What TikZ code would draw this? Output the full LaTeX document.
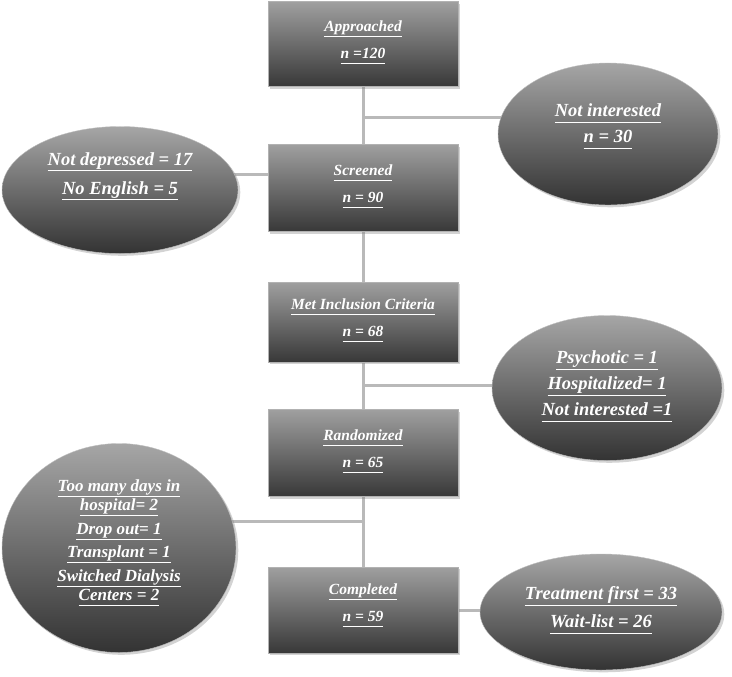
\documentclass[tikz,border=0pt]{standalone}
\usepackage{fontspec}
\setmainfont{Liberation Serif}
\usepackage{tikz}
\usetikzlibrary{shapes.geometric, shadows, backgrounds}

\newcommand{\ul}[1]{\underline{\smash{#1}\vphantom{p}}}

\begin{document}
\begin{tikzpicture}[x=1pt, y=-1pt,
    stepbox/.style={rectangle, draw=gray!60, minimum width=190pt, top color=gray!75, bottom color=black!78, text=white, font=\bfseries\itshape\fontsize{15.5}{18}\selectfont, align=center, drop shadow={opacity=0.35}},
    outbox/.style={ellipse, draw=gray!50, inner sep=0pt, top color=gray!70, bottom color=black!80, text=white, font=\bfseries\itshape\fontsize{18.5}{21}\selectfont, align=center, drop shadow={opacity=0.35}},
    link/.style={line width=3pt, gray!55}]
    \useasboundingbox (0,0) rectangle (732,677);

    % Main steps
    \node[stepbox, minimum height=85pt] (approached) at (363,44) {\ul{Approached}\\[9pt]\ul{n =120}};
    \node[stepbox, minimum height=87pt] (screened) at (363,188) {\ul{Screened}\\[9pt]\ul{n = 90}};
    \node[stepbox, minimum height=80pt] (met) at (363,322) {\ul{Met Inclusion Criteria}\\[9pt]\ul{n = 68}};
    \node[stepbox, minimum height=87pt] (randomized) at (363,453) {\ul{Randomized}\\[9pt]\ul{n = 65}};
    \node[stepbox, minimum height=86pt] (completed) at (363,610) {\ul{Completed}\\[9pt]\ul{n = 59}\\[-6pt]\mbox{}};

    % Exclusions
    \node[outbox, minimum width=220pt, minimum height=142pt] (notint) at (608,134) {\ul{Not interested}\\[5pt]\ul{n = 30}\\[-4pt]\mbox{}};
    \node[outbox, minimum width=236pt, minimum height=127pt] (notdep) at (120,190) {\ul{Not depressed = 17}\\[8pt]\ul{No English = 5}\\[8pt]\mbox{}};
    \node[outbox, minimum width=230pt, minimum height=145pt] (psych) at (607,388) {\ul{Psychotic = 1}\\[5pt]\ul{Hospitalized= 1}\\[5pt]\ul{Not interested =1}};
    \node[outbox, minimum width=234pt, minimum height=209pt, font=\bfseries\itshape\fontsize{17}{18.5}\selectfont] (dropped) at (119,548) {\ul{Too many days in}\\\ul{hospital= 2}\\[6pt]\ul{Drop out= 1}\\[4pt]\ul{Transplant = 1}\\[6pt]\ul{Switched Dialysis}\\\ul{Centers = 2}\\[-6pt]\mbox{}};
    \node[outbox, minimum width=242pt, minimum height=116pt] (arms) at (601,612) {\ul{Treatment first = 33}\\[7pt]\ul{Wait-list = 26}};

    % Branch points
    \coordinate (b1) at (365,118);
    \coordinate (b2) at (268,174);
    \coordinate (b3) at (365,385);
    \coordinate (b4) at (365,521);

    % Connectors
    \begin{scope}[on background layer]
        \draw[link] (approached.south) -- (screened.north);
        \draw[link] (screened.south) -- (met.north);
        \draw[link] (met.south) -- (randomized.north);
        \draw[link] (randomized.south) -- (completed.north);
        \draw[link] (b1) -- (b1 -| notint.center);
        \draw[link] (b2) -- (b2 -| notdep.center);
        \draw[link] (b3) -- (b3 -| psych.center);
        \draw[link] (b4) -- (b4 -| dropped.center);
        \draw[link] (completed.east) -- (completed.east -| arms.center);
    \end{scope}
\end{tikzpicture}
\end{document}
